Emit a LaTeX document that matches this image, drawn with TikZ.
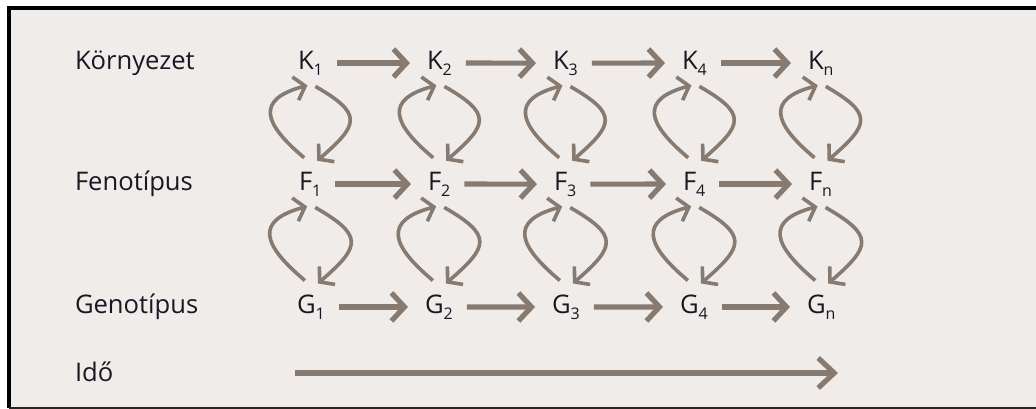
\documentclass[tikz,border=0pt]{standalone}
\usepackage{fontspec}
\setmainfont{Open Sans}
\usetikzlibrary{arrows.meta}
\definecolor{bgcream}{RGB}{239,236,233}
\definecolor{arrowtaupe}{RGB}{135,122,112}
\definecolor{inkdark}{RGB}{24,24,36}
\newcommand{\lowidx}[1]{\raisebox{-3.2pt}{\fontsize{8}{9}\selectfont #1}}
\tikzset{
  stage/.style={inner sep=0pt, outer sep=0pt, anchor=base west, text=inkdark, font=\fontsize{12.8}{15}\selectfont},
  rowlabel/.style={stage},
  stepline/.style={draw=arrowtaupe, line width=2.6pt, -{Straight Barb[length=6.5pt, width=14pt]}, shorten <=7pt, shorten >=8.5pt},
  looparc/.style={draw=arrowtaupe, line width=1.8pt, -{Straight Barb[length=5pt, width=12pt]}, looseness=1.9},
  leftloop/.style={looparc, out=140, in=195},
  rightloop/.style={looparc, out=-30, in=41},
  timeline/.style={draw=arrowtaupe, line width=2.6pt, -{Straight Barb[length=8pt, width=15pt]}}
}

\begin{document}
\begin{tikzpicture}[x=0.5pt, y=-0.5pt]
  \useasboundingbox (0,0) rectangle (1036,408);

  % Frame
  \fill[white] (0,0) rectangle (1036,408);
  \fill[bgcream] (9,8) rectangle (1036,408);
  \draw[black, line width=2pt] (9,408) -- (9,8) -- (1036,8);
  \draw[black!85, line width=1pt] (9,407.5) -- (1036,407.5);

  % Row labels
  \node[rowlabel] (envlabel) at (75,69) {Környezet};
  \node[rowlabel] (phenlabel) at (75,190) {Fenotípus};
  \node[rowlabel] (genlabel) at (75,313) {Genotípus};
  \node[rowlabel] (timelabel) at (75,381) {Idő};

  % Environment row
  \node[stage] (K1) at (298,69) {K\lowidx{1}};
  \node[stage] (K2) at (427,69) {K\lowidx{2}};
  \node[stage] (K3) at (553,69) {K\lowidx{3}};
  \node[stage] (K4) at (682,69) {K\lowidx{4}};
  \node[stage] (Kn) at (808,69) {K\lowidx{n}};

  % Phenotype row
  \node[stage] (F1) at (299,190) {F\lowidx{1}};
  \node[stage] (F2) at (428,190) {F\lowidx{2}};
  \node[stage] (F3) at (554,190) {F\lowidx{3}};
  \node[stage] (F4) at (683,190) {F\lowidx{4}};
  \node[stage] (Fn) at (809,190) {F\lowidx{n}};

  % Genotype row
  \node[stage] (G1) at (297,313) {G\lowidx{1}};
  \node[stage] (G2) at (425,313) {G\lowidx{2}};
  \node[stage] (G3) at (552,313) {G\lowidx{3}};
  \node[stage] (G4) at (680,313) {G\lowidx{4}};
  \node[stage] (Gn) at (807,313) {G\lowidx{n}};

  % Steps in time
  \draw[stepline] (K1) -- (K2);
  \draw[stepline] (K2) -- (K3);
  \draw[stepline] (K3) -- (K4);
  \draw[stepline] (K4) -- (Kn);
  \draw[stepline] (F1) -- (F2);
  \draw[stepline] (F2) -- (F3);
  \draw[stepline] (F3) -- (F4);
  \draw[stepline] (F4) -- (Fn);
  \draw[stepline] (G1) -- (G2);
  \draw[stepline] (G2) -- (G3);
  \draw[stepline] (G3) -- (G4);
  \draw[stepline] (G4) -- (Gn);

  % Environment <-> phenotype
  \draw[leftloop] ([shift={(-3pt,7pt)}]F1.north) to ([shift={(-1.5pt,-5pt)}]K1.south);
  \draw[rightloop] ([shift={(2.5pt,-5.5pt)}]K1.south) to ([shift={(3.5pt,5.5pt)}]F1.north);
  \draw[leftloop] ([shift={(-3pt,7pt)}]F2.north) to ([shift={(-1.5pt,-5pt)}]K2.south);
  \draw[rightloop] ([shift={(2.5pt,-5.5pt)}]K2.south) to ([shift={(3.5pt,5.5pt)}]F2.north);
  \draw[leftloop] ([shift={(-3pt,7pt)}]F3.north) to ([shift={(-1.5pt,-5pt)}]K3.south);
  \draw[rightloop] ([shift={(2.5pt,-5.5pt)}]K3.south) to ([shift={(3.5pt,5.5pt)}]F3.north);
  \draw[leftloop] ([shift={(-3pt,7pt)}]F4.north) to ([shift={(-1.5pt,-5pt)}]K4.south);
  \draw[rightloop] ([shift={(2.5pt,-5.5pt)}]K4.south) to ([shift={(3.5pt,5.5pt)}]F4.north);
  \draw[leftloop] ([shift={(-3pt,7pt)}]Fn.north) to ([shift={(-1.5pt,-5pt)}]Kn.south);
  \draw[rightloop] ([shift={(2.5pt,-5.5pt)}]Kn.south) to ([shift={(3.5pt,5.5pt)}]Fn.north);

  % Phenotype <-> genotype
  \draw[leftloop] ([shift={(-3pt,7pt)}]G1.north) to ([shift={(-1.5pt,-5pt)}]F1.south);
  \draw[rightloop] ([shift={(2.5pt,-5.5pt)}]F1.south) to ([shift={(3.5pt,5.5pt)}]G1.north);
  \draw[leftloop] ([shift={(-3pt,7pt)}]G2.north) to ([shift={(-1.5pt,-5pt)}]F2.south);
  \draw[rightloop] ([shift={(2.5pt,-5.5pt)}]F2.south) to ([shift={(3.5pt,5.5pt)}]G2.north);
  \draw[leftloop] ([shift={(-3pt,7pt)}]G3.north) to ([shift={(-1.5pt,-5pt)}]F3.south);
  \draw[rightloop] ([shift={(2.5pt,-5.5pt)}]F3.south) to ([shift={(3.5pt,5.5pt)}]G3.north);
  \draw[leftloop] ([shift={(-3pt,7pt)}]G4.north) to ([shift={(-1.5pt,-5pt)}]F4.south);
  \draw[rightloop] ([shift={(2.5pt,-5.5pt)}]F4.south) to ([shift={(3.5pt,5.5pt)}]G4.north);
  \draw[leftloop] ([shift={(-3pt,7pt)}]Gn.north) to ([shift={(-1.5pt,-5pt)}]Fn.south);
  \draw[rightloop] ([shift={(2.5pt,-5.5pt)}]Fn.south) to ([shift={(3.5pt,5.5pt)}]Gn.north);

  % Time axis
  \coordinate (tstart) at (295,373);
  \coordinate (tend) at (838,373);
  \draw[timeline] (tstart) -- (tend);
\end{tikzpicture}
\end{document}
